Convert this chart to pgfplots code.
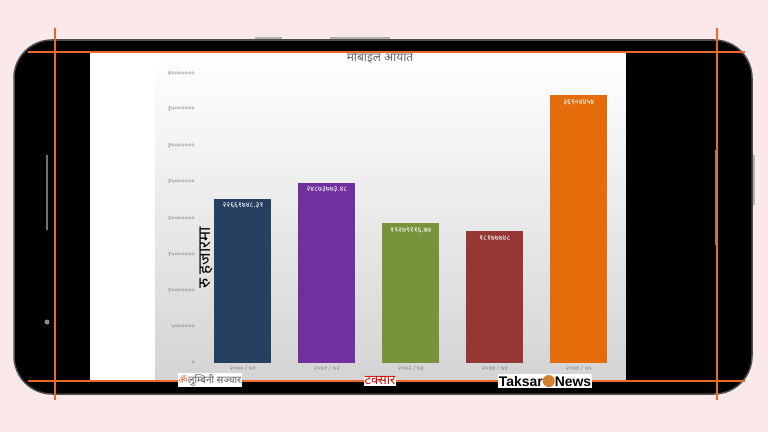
\documentclass[border=0pt]{standalone}
\usepackage{pgfplots}
\pgfplotsset{compat=1.18}
\usepackage{fontspec}
\setmainfont{Liberation Sans}
\newfontfamily\deva[Script=Devanagari]{Noto Sans}
\definecolor{bgpink}{HTML}{FBE9E9}
\definecolor{ornline}{HTML}{E8692A}
\definecolor{cA}{HTML}{254061}
\definecolor{cB}{HTML}{7030A0}
\definecolor{cC}{HTML}{77933C}
\definecolor{cD}{HTML}{953735}
\definecolor{cE}{HTML}{E46C0A}
\definecolor{tickgray}{HTML}{8C8C8C}
\begin{document}
\begin{tikzpicture}[x=1bp,y=1bp]
% background
\fill[bgpink] (0,0) rectangle (768,432);
\useasboundingbox (0,0) rectangle (768,432);
% phone body
\fill[gray!60] (255,432-41) rectangle (282,432-37);
\fill[gray!60] (330,432-41) rectangle (390,432-37);
\fill[gray!60] (750,432-205) rectangle (755,432-155);
\fill[black, draw=black!70, line width=1.5bp, rounded corners=38bp] (14,432-394) rectangle (752,432-40);
% screen
\fill[white] (90,432-381) rectangle (626,432-52);
\shade[top color=white, bottom color=black!17] (155,432-381) rectangle (626,432-55);
% side details
\fill[black!55] (45.5,432-230) rectangle (48,432-155);
\fill[black!45] (47,432-322) circle (2.5);
\fill[black!50] (715,432-245) rectangle (718,432-150);

\begin{axis}[
  at={(199.3bp,69bp)}, anchor=south west,
  scale only axis, width=425.7bp, height=290bp,
  xmin=-0.52, xmax=4.55, ymin=0, ymax=40000000,
  axis line style={draw=none}, tick style={draw=none},
  scaled y ticks=false,
  ytick={0,5000000,10000000,15000000,20000000,25000000,30000000,35000000,40000000},
  yticklabels={०,५००००००,१०००००००,१५००००००,२०००००००,२५००००००,३०००००००,३५००००००,४०००००००},
  xtick={0,1,2,3,4},
  xticklabels={२०७० / ७१,२०७१ / ७२,२०७२ / ७३,२०७३ / ७४,२०७४ / ७५},
  ticklabel style={font=\deva\fontsize{6.5}{7}\selectfont, text=tickgray},
  yticklabel style={xshift=-1bp},
  xticklabel style={yshift=1bp},
  point meta=explicit symbolic,
  nodes near coords,
  every node near coord/.append style={font=\deva\fontsize{7.5}{8}\selectfont, text=white, anchor=north, yshift=-1bp},
]
\addplot[ybar, bar shift=0pt, bar width=57bp, fill=cA, draw=none] coordinates {(0,22661748.31) [२२६६१७४८.३१]};
\addplot[ybar, bar shift=0pt, bar width=57bp, fill=cB, draw=none] coordinates {(1,24873773.48) [२४८७३७७३.४८]};
\addplot[ybar, bar shift=0pt, bar width=57bp, fill=cC, draw=none] coordinates {(2,19279116.77) [१९२७९११६.७७]};
\addplot[ybar, bar shift=0pt, bar width=57bp, fill=cD, draw=none] coordinates {(3,18177748) [१८१७७७४८]};
\addplot[ybar, bar shift=0pt, bar width=57bp, fill=cE, draw=none] coordinates {(4,36904454) [३६९०४४५४]};
\end{axis}
% y label
\node[rotate=90, font=\deva\bfseries\fontsize{17}{19}\selectfont] at (206,432-258) {रु हजारमा};
% title
\node[font=\deva\fontsize{12}{14}\selectfont, text=black!60] at (380,432-57) {मोबाइल आयात};
% top bezel strip over title
\fill[black] (90,432-52.5) rectangle (626,432-41);
% right black screen area
\fill[black] (626,432-381) rectangle (676,432-52);
% orange guide lines
\draw[ornline, line width=1.1bp] (28,432-52) -- (745,432-52);
\draw[ornline, line width=1.1bp] (28,432-381) -- (745,432-381);
\draw[ornline, line width=1.1bp] (55,432-28) -- (55,432-400);
\draw[ornline, line width=1.1bp] (717,432-28) -- (717,432-400);
% logos
\node[fill=white, inner sep=1bp, font=\deva\bfseries\fontsize{10}{12}\selectfont, text=black!65] at (210,432-380) {\textcolor{ornline}{\symbol{"0950}}लुम्बिनी सञ्चार};
\node[fill=white, inner sep=1bp, font=\deva\bfseries\fontsize{13}{15}\selectfont, text=red!85!black] at (380,432-381) {टक्सार};
\node[fill=white, inner sep=1bp, font=\bfseries\fontsize{14}{16}\selectfont] at (545,432-381) {Taksar\textcolor{brown!70!orange}{\raisebox{-0.5bp}{\tikz\fill (0,0) circle (6bp);}}News};
\end{tikzpicture}
\end{document}
